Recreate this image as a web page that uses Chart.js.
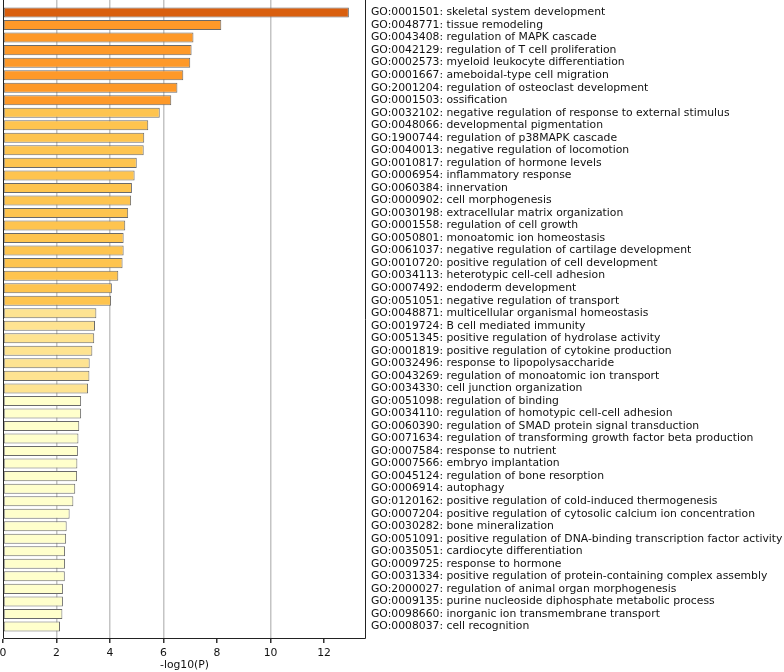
<!DOCTYPE html>
<html>
<head>
<meta charset="utf-8">
<script src="https://cdn.jsdelivr.net/npm/chart.js@4"></script>
<style>
  html, body { margin: 0; padding: 0; background: #fff; }
  #wrap { width: 784px; height: 672px; }
</style>
</head>
<body>
<div id="wrap"><canvas id="chart" width="784" height="672"></canvas></div>
<script>
const terms = [
  "GO:0001501: skeletal system development",
  "GO:0048771: tissue remodeling",
  "GO:0043408: regulation of MAPK cascade",
  "GO:0042129: regulation of T cell proliferation",
  "GO:0002573: myeloid leukocyte differentiation",
  "GO:0001667: ameboidal-type cell migration",
  "GO:2001204: regulation of osteoclast development",
  "GO:0001503: ossification",
  "GO:0032102: negative regulation of response to external stimulus",
  "GO:0048066: developmental pigmentation",
  "GO:1900744: regulation of p38MAPK cascade",
  "GO:0040013: negative regulation of locomotion",
  "GO:0010817: regulation of hormone levels",
  "GO:0006954: inflammatory response",
  "GO:0060384: innervation",
  "GO:0000902: cell morphogenesis",
  "GO:0030198: extracellular matrix organization",
  "GO:0001558: regulation of cell growth",
  "GO:0050801: monoatomic ion homeostasis",
  "GO:0061037: negative regulation of cartilage development",
  "GO:0010720: positive regulation of cell development",
  "GO:0034113: heterotypic cell-cell adhesion",
  "GO:0007492: endoderm development",
  "GO:0051051: negative regulation of transport",
  "GO:0048871: multicellular organismal homeostasis",
  "GO:0019724: B cell mediated immunity",
  "GO:0051345: positive regulation of hydrolase activity",
  "GO:0001819: positive regulation of cytokine production",
  "GO:0032496: response to lipopolysaccharide",
  "GO:0043269: regulation of monoatomic ion transport",
  "GO:0034330: cell junction organization",
  "GO:0051098: regulation of binding",
  "GO:0034110: regulation of homotypic cell-cell adhesion",
  "GO:0060390: regulation of SMAD protein signal transduction",
  "GO:0071634: regulation of transforming growth factor beta production",
  "GO:0007584: response to nutrient",
  "GO:0007566: embryo implantation",
  "GO:0045124: regulation of bone resorption",
  "GO:0006914: autophagy",
  "GO:0120162: positive regulation of cold-induced thermogenesis",
  "GO:0007204: positive regulation of cytosolic calcium ion concentration",
  "GO:0030282: bone mineralization",
  "GO:0051091: positive regulation of DNA-binding transcription factor activity",
  "GO:0035051: cardiocyte differentiation",
  "GO:0009725: response to hormone",
  "GO:0031334: positive regulation of protein-containing complex assembly",
  "GO:2000027: regulation of animal organ morphogenesis",
  "GO:0009135: purine nucleoside diphosphate metabolic process",
  "GO:0098660: inorganic ion transmembrane transport",
  "GO:0008037: cell recognition"
]

// -log10(P) per term, same order
const logP = [
  12.93, 8.16, 7.12, 7.05, 7.00, 6.74, 6.52, 6.29,
  5.86, 5.43, 5.28, 5.26, 5.00, 4.92, 4.82, 4.79, 4.68, 4.57, 4.51, 4.51, 4.47, 4.31, 4.07, 4.04,
  3.49, 3.44, 3.41, 3.34, 3.24, 3.23, 3.18,
  2.92, 2.92, 2.85, 2.82, 2.80, 2.78, 2.77, 2.70, 2.63, 2.49, 2.38, 2.36, 2.32, 2.32, 2.31, 2.24, 2.24, 2.22, 2.13
]

const xTicks = [0, 2, 4, 6, 8, 10, 12]
const gridAt = [2, 4, 6, 10]

function colorFor(v) {
  if (v > 10) return "#d95f0e"
  if (v > 6) return "#fe9929"
  if (v > 4) return "#fec44f"
  if (v > 3) return "#fee391"
  return "#ffffcc"
}

// left, right and bottom spines (top one sits off the canvas)
const frame = {
  id: "frame",
  afterDraw(chart) {
    const { ctx, chartArea: a } = chart
    ctx.save()
    ctx.strokeStyle = "#222"
    ctx.lineWidth = 1
    ctx.beginPath()
    ctx.moveTo(a.left + 0.5, a.top)
    ctx.lineTo(a.left + 0.5, a.bottom - 0.5)
    ctx.lineTo(a.right - 0.5, a.bottom - 0.5)
    ctx.lineTo(a.right - 0.5, a.top)
    ctx.stroke()
    ctx.restore()
  },
}

const font = { family: "'DejaVu Sans', sans-serif", size: 10.8 }

new Chart(document.getElementById("chart"), {
  type: "bar",
  data: {
    datasets: [
      {
        data: logP.map((v, i) => ({ x: v, y: i })),
        backgroundColor: logP.map(colorFor),
        borderColor: "#6a6a6a",
        borderWidth: 1,
        borderSkipped: false,
        barPercentage: 0.8,
        categoryPercentage: 1,
      },
    ],
  },
  options: {
    indexAxis: "y",
    responsive: false,
    animation: false,
    layout: { padding: { left: 3, top: 0, right: 0, bottom: 0 } },
    plugins: { legend: { display: false }, tooltip: { enabled: false } },
    scales: {
      x: {
        type: "linear",
        min: 0,
        max: 13.57,
        afterBuildTicks: (s) => { s.ticks = xTicks.map((v) => ({ value: v })) },
        afterFit: (s) => {
          s.height = 33
          s.paddingLeft = 0
          s.paddingRight = 0
        },
        ticks: { font, color: "#111", padding: 4 },
        grid: {
          color: (c) => gridAt.includes(c.tick && c.tick.value) ? "#c4c4c4" : "rgba(0,0,0,0)",
          lineWidth: 1.5,
          tickColor: "#333",
          tickLength: 4,
        },
        border: { display: false },
        title: { display: true, text: "-log10(P)", font, color: "#111", padding: { top: 1, bottom: 0 } },
      },
      y: {
        type: "linear",
        position: "right",
        reverse: true,
        offset: false,
        min: -1,
        max: 50,
        afterBuildTicks: (s) => { s.ticks = terms.map((_, i) => ({ value: i })) },
        afterFit: (s) => {
          s.width = 418
          s.paddingTop = 0
          s.paddingBottom = 0
        },
        ticks: {
          font,
          color: "#111",
          padding: 5,
          crossAlign: "near",
          autoSkip: false,
          callback: (v) => terms[v] || "",
        },
        grid: { display: false, drawTicks: false },
        border: { display: false },
      },
    },
  },
  plugins: [frame],
})
</script>
</body>
</html>
